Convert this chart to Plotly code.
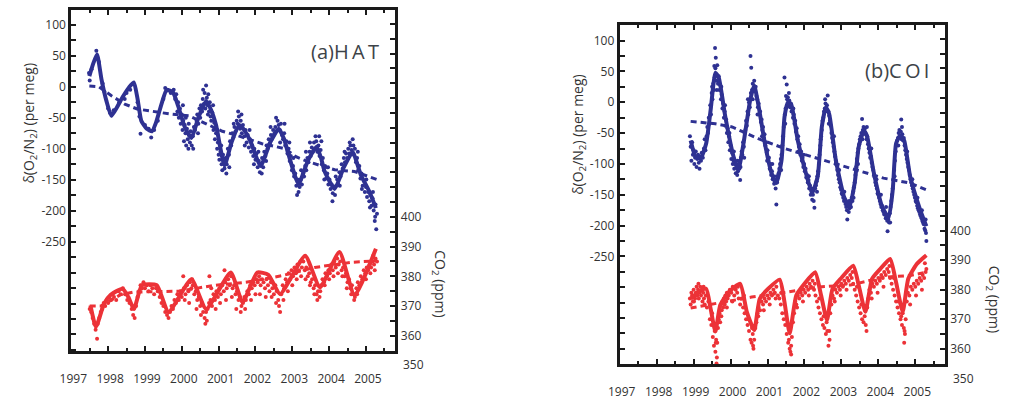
import plotly.graph_objects as go

# ---------------- axis ticks / labels ----------------
year_ticks = [1997, 1998, 1999, 2000, 2001, 2002, 2003, 2004, 2005]
year_labels = ["1997", "1998", "1999", "2000", "2001", "2002", "2003", "2004", "2005"]
half_year_ticks = [1997.5, 1998.5, 1999.5, 2000.5, 2001.5, 2002.5, 2003.5, 2004.5, 2005.5]

o2_tickvals = [-250, -200, -150, -100, -50, 0, 50, 100]
o2_ticktext = ["-250", "-200", "-150", "-100", "-50", "0", "50", "100"]
o2_minor_ticks = [-425, -400, -375, -350, -325, -300, -275, -225, -175, -125, -75, -25,
                  25, 75, 125]
co2_tickvals = [360, 370, 380, 390, 400]
co2_ticktext = ["360", "370", "380", "390", "400"]
co2_minor_ticks = [355, 365, 375, 385, 395, 405, 410, 415, 420, 425, 430, 435, 440, 445,
                   450, 455, 460, 465]

# ---------------- (a) HAT ----------------
hat_o2_fit = [(1997.49, 17), (1997.60, 38), (1997.70, 52), (1997.82, 12), (1997.95, -22),
              (1998.09, -47), (1998.39, -17), (1998.58, 0), (1998.70, 7), (1998.80, -20),
              (1998.90, -55), (1999.05, -68), (1999.19, -72), (1999.30, -58), (1999.41, -36),
              (1999.59, -5), (1999.76, -9), (1999.90, -31), (2000.08, -65), (2000.26, -83),
              (2000.45, -50), (2000.66, -23), (2000.80, -38), (2000.93, -62), (2001.16, -127),
              (2001.35, -90), (2001.56, -62), (2001.72, -72), (2001.87, -89), (2002.14, -128),
              (2002.40, -90), (2002.63, -68), (2002.78, -85), (2002.90, -110), (2003.17, -157),
              (2003.42, -120), (2003.66, -97), (2003.78, -115), (2003.88, -137), (2004.15, -165),
              (2004.40, -130), (2004.64, -105), (2004.75, -122), (2004.86, -142), (2005.09, -169),
              (2005.27, -196)]
hat_o2_trend = [(1997.49, 1), (1997.75, 0), (1998.10, -15), (1998.45, -28), (1998.79, -36),
                (1999.20, -40), (1999.68, -44), (2000.20, -47), (2000.75, -62), (2001.10, -72),
                (2001.47, -78), (2001.85, -86), (2002.18, -92), (2002.50, -96), (2002.80, -100),
                (2003.10, -113), (2003.43, -121), (2003.80, -128), (2004.15, -134), (2004.69, -137),
                (2005.00, -144), (2005.31, -150)]
hat_o2_obs = [
    (1997.48, 22), (1997.50, 10), (1997.55, 28), (1997.68, 58), (1997.75, 40), (1997.85, 5),
    (1997.90, -8), (1998.00, -35), (1998.05, -42), (1998.15, -38), (1998.30, -25), (1998.45, -20),
    (1998.50, -10), (1998.60, -5), (1998.80, -25), (1998.85, -48), (1998.88, -76), (1999.00, -62),
    (1999.10, -68), (1999.17, -82), (1999.25, -70), (1999.35, -55), (1999.50, -20), (1999.55, -2),
    (1999.62, -6), (1999.70, -10), (1999.78, -5), (1999.82, -20), (1999.85, -12), (1999.88, -40),
    (1999.90, -25), (1999.92, -50), (1999.95, -35), (1999.97, -60), (2000.00, -45), (2000.02, -70),
    (2000.04, -55), (2000.06, -88), (2000.08, -62), (2000.10, -75), (2000.12, -95), (2000.14, -68),
    (2000.16, -85), (2000.18, -100), (2000.20, -78), (2000.22, -90), (2000.24, -72), (2000.27, -95),
    (2000.30, -80), (2000.33, -65), (2000.36, -70), (2000.40, -55), (2000.42, -45), (2000.45, -60),
    (2000.48, -35), (2000.50, -50), (2000.52, -30), (2000.55, -40), (2000.57, -20), (2000.60, -28),
    (2000.62, -10), (2000.64, -35), (2000.66, 2), (2000.68, -18), (2000.70, -30), (2000.72, -12),
    (2000.74, -40), (2000.76, -25), (2000.78, -48), (2000.80, -55), (2000.83, -42), (2000.86, -70),
    (2000.88, -58), (2000.90, -85), (2000.93, -75), (2000.96, -100), (2000.98, -90), (2001.00, -110),
    (2001.02, -118), (2001.05, -105), (2001.08, -125), (2001.10, -135), (2001.13, -120), (2001.16, -132),
    (2001.19, -115), (2001.22, -125), (2001.25, -100), (2001.28, -110), (2001.31, -88), (2001.34, -95),
    (2001.37, -75), (2001.40, -82), (2001.43, -65), (2001.46, -72), (2001.49, -55), (2001.52, -60),
    (2001.55, -48), (2001.58, -68), (2001.60, -55), (2001.63, -75), (2001.66, -62), (2001.70, -80),
    (2001.73, -70), (2001.76, -90), (2001.79, -78), (2001.82, -98), (2001.85, -85), (2001.88, -105),
    (2001.91, -95), (2001.94, -112), (2001.97, -100), (2002.00, -118), (2002.03, -108), (2002.06, -130),
    (2002.09, -120), (2002.12, -138), (2002.15, -125), (2002.18, -115), (2002.21, -130), (2002.24, -105),
    (2002.27, -112), (2002.30, -95), (2002.33, -100), (2002.36, -85), (2002.39, -92), (2002.42, -78),
    (2002.45, -84), (2002.48, -70), (2002.51, -76), (2002.54, -65), (2002.57, -72), (2002.60, -55),
    (2002.63, -62), (2002.66, -70), (2002.69, -60), (2002.72, -78), (2002.75, -85), (2002.78, -75),
    (2002.81, -95), (2002.84, -88), (2002.87, -108), (2002.90, -100), (2002.93, -120), (2002.96, -112),
    (2002.99, -135), (2003.02, -128), (2003.05, -145), (2003.08, -140), (2003.11, -160), (2003.14, -150),
    (2003.17, -170), (2003.20, -162), (2003.23, -150), (2003.26, -158), (2003.29, -140), (2003.32, -145),
    (2003.35, -128), (2003.38, -135), (2003.41, -115), (2003.44, -122), (2003.47, -105), (2003.50, -112),
    (2003.53, -98), (2003.56, -105), (2003.59, -90), (2003.62, -100), (2003.65, -88), (2003.68, -105),
    (2003.71, -95), (2003.74, -112), (2003.77, -102), (2003.79, -88), (2003.80, -125), (2003.83, -115),
    (2003.86, -135), (2003.89, -128), (2003.92, -148), (2003.95, -140), (2003.98, -158), (2004.01, -150),
    (2004.04, -165), (2004.07, -158), (2004.10, -172), (2004.13, -162), (2004.16, -175), (2004.19, -160),
    (2004.22, -150), (2004.25, -158), (2004.28, -138), (2004.31, -145), (2004.34, -125), (2004.37, -132),
    (2004.40, -115), (2004.43, -122), (2004.46, -108), (2004.49, -115), (2004.52, -100), (2004.55, -108),
    (2004.58, -95), (2004.61, -102), (2004.64, -85), (2004.67, -110), (2004.70, -100), (2004.73, -122),
    (2004.76, -115), (2004.79, -135), (2004.82, -128), (2004.85, -148), (2004.88, -140), (2004.91, -160),
    (2004.94, -152), (2004.97, -170), (2005.00, -162), (2005.03, -178), (2005.06, -170), (2005.09, -185),
    (2005.12, -175), (2005.15, -192), (2005.18, -180), (2005.21, -200), (2005.24, -217), (2005.26, -190),
    (2005.28, -230), (2005.30, -205),
    (2000.03, -30), (2000.11, -50), (2000.19, -60), (2000.31, -100), (2000.44, -75), (2000.58, -5),
    (2000.71, -45), (2000.85, -30), (2000.97, -70), (2001.07, -95), (2001.12, -110), (2001.21, -140),
    (2001.29, -130), (2001.41, -60), (2001.53, -40), (2001.62, -45), (2001.71, -95), (2001.84, -70),
    (2001.96, -125), (2002.08, -105), (2002.17, -140), (2002.29, -120), (2002.41, -65), (2002.56, -50),
    (2002.67, -90), (2002.79, -60), (2002.92, -90), (2003.03, -115), (2003.13, -175), (2003.24, -135),
    (2003.37, -105), (2003.48, -90), (2003.63, -80), (2003.73, -80), (2003.87, -150), (2003.97, -130),
    (2004.09, -185), (2004.18, -145), (2004.29, -160), (2004.42, -105), (2004.56, -90), (2004.66, -95),
    (2004.78, -105), (2004.89, -165), (2005.01, -150), (2005.11, -195), (2005.19, -170), (2005.25, -210)]

hat_co2_fit = [(1997.52, 370.2), (1997.67, 363.0), (1997.89, 370.8), (1998.07, 373.8),
               (1998.39, 375.8), (1998.55, 373.0), (1998.70, 369.0), (1998.92, 377.0),
               (1999.32, 377.0), (1999.64, 368.0), (2000.26, 379.0), (2000.66, 369.0),
               (2001.33, 381.3), (2001.65, 371.3), (2002.05, 381.3), (2002.35, 380.5),
               (2002.67, 374.0), (2003.35, 386.9), (2003.75, 376.3), (2004.28, 388.2),
               (2004.69, 373.6), (2005.27, 389.3)]
hat_co2_trend = [(1997.50, 370.0), (1997.80, 370.0), (1998.34, 373.8), (1998.70, 374.7),
                 (1999.95, 375.0), (2000.84, 376.9), (2001.74, 378.0), (2002.72, 380.2),
                 (2003.61, 383.0), (2004.60, 384.7), (2005.27, 385.2)]
hat_co2_obs = [
    (1997.50, 369), (1997.54, 368), (1997.58, 366), (1997.62, 364), (1997.66, 362), (1997.70, 359),
    (1997.72, 364), (1997.76, 366), (1997.80, 368), (1997.84, 369), (1997.88, 371), (1997.92, 370),
    (1997.96, 372), (1998.00, 371), (1998.04, 373), (1998.08, 372), (1998.12, 374), (1998.16, 373),
    (1998.22, 372), (1998.28, 375), (1998.34, 374), (1998.40, 376), (1998.46, 374), (1998.52, 372),
    (1998.58, 371), (1998.64, 369), (1998.68, 367), (1998.72, 366), (1998.76, 370), (1998.80, 373),
    (1998.84, 375), (1998.88, 377), (1998.92, 376), (1998.96, 378), (1999.00, 376), (1999.05, 377),
    (1999.10, 375), (1999.15, 377), (1999.20, 376), (1999.25, 374), (1999.30, 376), (1999.35, 375),
    (1999.40, 373), (1999.45, 371), (1999.50, 370), (1999.55, 368), (1999.60, 367), (1999.64, 366),
    (1999.68, 368), (1999.72, 370), (1999.76, 369), (1999.80, 372), (1999.84, 371), (1999.88, 374),
    (1999.92, 372), (1999.96, 375), (2000.00, 373), (2000.04, 380), (2000.06, 376), (2000.10, 374),
    (2000.14, 377), (2000.18, 375), (2000.22, 378), (2000.26, 376), (2000.30, 377), (2000.34, 374),
    (2000.38, 375), (2000.42, 372), (2000.46, 373), (2000.50, 370), (2000.54, 371), (2000.58, 368),
    (2000.62, 366), (2000.66, 368), (2000.68, 365), (2000.70, 369), (2000.74, 371), (2000.75, 380),
    (2000.78, 372), (2000.82, 370), (2000.86, 374), (2000.90, 372), (2000.94, 375), (2000.98, 373),
    (2001.02, 376), (2001.06, 374), (2001.10, 377), (2001.14, 375), (2001.16, 382), (2001.18, 378),
    (2001.22, 376), (2001.26, 379), (2001.30, 377), (2001.34, 380), (2001.38, 376), (2001.42, 377),
    (2001.46, 374), (2001.50, 375), (2001.54, 372), (2001.58, 373), (2001.62, 370), (2001.66, 371),
    (2001.70, 373), (2001.74, 372), (2001.78, 375), (2001.82, 374), (2001.86, 377), (2001.90, 376),
    (2001.94, 378), (2001.98, 377), (2002.02, 379), (2002.06, 378), (2002.10, 380), (2002.14, 377),
    (2002.18, 379), (2002.22, 378), (2002.26, 376), (2002.30, 379), (2002.34, 377), (2002.38, 375),
    (2002.42, 378), (2002.46, 376), (2002.50, 374), (2002.54, 377), (2002.58, 375), (2002.62, 372),
    (2002.67, 368), (2002.70, 374), (2002.74, 377), (2002.78, 376), (2002.82, 379), (2002.86, 378),
    (2002.90, 381), (2002.94, 379), (2002.98, 382), (2003.02, 380), (2003.06, 383), (2003.10, 381),
    (2003.14, 384), (2003.18, 382), (2003.22, 385), (2003.26, 383), (2003.30, 385), (2003.34, 382),
    (2003.38, 383), (2003.42, 380), (2003.46, 381), (2003.50, 378), (2003.54, 379), (2003.58, 376),
    (2003.62, 377), (2003.66, 374), (2003.70, 375), (2003.74, 373), (2003.78, 377), (2003.82, 379),
    (2003.86, 378), (2003.90, 381), (2003.94, 380), (2003.98, 382), (2004.02, 381), (2004.06, 384),
    (2004.10, 382), (2004.14, 385), (2004.18, 383), (2004.22, 386), (2004.26, 384), (2004.30, 385),
    (2004.34, 382), (2004.38, 383), (2004.42, 380), (2004.46, 381), (2004.50, 378), (2004.54, 379),
    (2004.58, 376), (2004.62, 377), (2004.66, 374), (2004.70, 373), (2004.74, 376), (2004.78, 378),
    (2004.82, 377), (2004.86, 380), (2004.90, 379), (2004.94, 382), (2004.98, 381), (2005.02, 383),
    (2005.06, 382), (2005.10, 384), (2005.14, 383), (2005.18, 385), (2005.22, 384), (2005.26, 386),
    (2005.30, 385),
    (2000.08, 372), (2000.20, 371), (2000.28, 379), (2000.40, 369), (2000.52, 367), (2000.64, 364),
    (2000.80, 376), (2000.92, 369), (2001.04, 371), (2001.20, 372), (2001.36, 373), (2001.48, 369),
    (2001.60, 368), (2001.72, 369), (2001.88, 372), (2002.00, 374), (2002.12, 374), (2002.28, 373),
    (2002.44, 373), (2002.56, 371), (2002.64, 370), (2002.76, 372), (2002.88, 375), (2003.00, 377),
    (2003.12, 379), (2003.24, 380), (2003.36, 379), (2003.48, 377), (2003.60, 374), (2003.68, 372),
    (2003.76, 375), (2003.88, 377), (2004.00, 379), (2004.12, 380), (2004.24, 381), (2004.36, 380),
    (2004.48, 376), (2004.60, 374), (2004.68, 372), (2004.76, 374), (2004.88, 378), (2005.00, 379),
    (2005.12, 381), (2005.24, 382), (2005.20, 387)]

# ---------------- (b) COI ----------------
coi_o2_fit = [(1998.92, -62), (1999.05, -88), (1999.19, -91), (1999.34, -67), (1999.46, -13),
              (1999.59, 48), (1999.68, 40), (1999.86, -24), (2000.08, -88), (2000.21, -110),
              (2000.35, -67), (2000.53, 3), (2000.64, 27), (2000.75, -3), (2000.93, -67),
              (2001.11, -115), (2001.24, -131), (2001.38, -94), (2001.46, -24), (2001.55, 0),
              (2001.64, -3), (2001.82, -62), (2002.04, -115), (2002.21, -147), (2002.36, -120),
              (2002.47, -40), (2002.58, -8), (2002.67, -19), (2002.85, -94), (2003.07, -153),
              (2003.22, -169), (2003.36, -131), (2003.47, -72), (2003.61, -46), (2003.70, -56),
              (2003.88, -115), (2004.10, -169), (2004.28, -187), (2004.39, -142), (2004.48, -67),
              (2004.59, -54), (2004.70, -62), (2004.86, -120), (2005.13, -174), (2005.30, -201)]
coi_o2_trend = [(1998.92, -31), (1999.59, -35), (2000.04, -40), (2000.75, -59), (2001.46, -75),
                (2002.36, -91), (2003.25, -107), (2004.14, -123), (2004.86, -131), (2005.30, -142)]
coi_o2_obs = [
    (1998.90, -55), (1998.92, -72), (1998.94, -95), (1998.96, -65), (1998.98, -85), (1999.00, -78),
    (1999.02, -100), (1999.04, -90), (1999.06, -80), (1999.08, -105), (1999.10, -92), (1999.12, -85),
    (1999.14, -98), (1999.16, -108), (1999.18, -88), (1999.20, -95), (1999.22, -82), (1999.25, -90),
    (1999.28, -75), (1999.30, -60), (1999.32, -78), (1999.35, -55), (1999.37, -40), (1999.39, -50),
    (1999.41, -25), (1999.43, -35), (1999.45, -5), (1999.47, -20), (1999.49, 15), (1999.51, 5),
    (1999.53, 30), (1999.55, 20), (1999.56, 59), (1999.57, 40), (1999.58, 88), (1999.59, 55),
    (1999.60, 72), (1999.61, 45), (1999.62, 35), (1999.64, 60), (1999.66, 30), (1999.68, 42),
    (1999.70, 20), (1999.72, 28), (1999.74, 5), (1999.76, 12), (1999.78, -10), (1999.80, -2),
    (1999.82, -25), (1999.84, -15), (1999.86, -38), (1999.88, -28), (1999.90, -50), (1999.92, -42),
    (1999.94, -65), (1999.96, -55), (1999.98, -78), (2000.00, -70), (2000.02, -92), (2000.04, -82),
    (2000.06, -100), (2000.08, -95), (2000.10, -108), (2000.12, -100), (2000.14, -115), (2000.16, -105),
    (2000.18, -118), (2000.20, -112), (2000.22, -100), (2000.24, -108), (2000.26, -126), (2000.28, -90),
    (2000.30, -80), (2000.32, -85), (2000.34, -65), (2000.36, -72), (2000.38, -50), (2000.40, -45),
    (2000.42, -30), (2000.44, -38), (2000.46, -15), (2000.48, -20), (2000.50, 0), (2000.52, -8),
    (2000.54, 75), (2000.55, 15), (2000.56, 56), (2000.58, 20), (2000.60, 30), (2000.62, 22),
    (2000.64, 35), (2000.66, 18), (2000.68, 25), (2000.70, 10), (2000.72, 5), (2000.74, -8),
    (2000.76, -2), (2000.78, -20), (2000.80, -15), (2000.82, -32), (2000.84, -28), (2000.86, -45),
    (2000.88, -40), (2000.90, -58), (2000.92, -52), (2000.94, -70), (2000.96, -65), (2000.98, -82),
    (2001.00, -78), (2001.02, -95), (2001.04, -90), (2001.06, -108), (2001.08, -100), (2001.10, -118),
    (2001.12, -112), (2001.14, -125), (2001.16, -120), (2001.18, -132), (2001.20, -128), (2001.22, -140),
    (2001.24, -166), (2001.26, -130), (2001.28, -122), (2001.30, -115), (2001.32, -108), (2001.34, -100),
    (2001.36, -92), (2001.38, -85), (2001.40, -70), (2001.42, -55), (2001.44, -40), (2001.46, 40),
    (2001.47, -20), (2001.49, -10), (2001.50, 10), (2001.52, 29), (2001.53, 5), (2001.55, 8),
    (2001.57, -5), (2001.59, 3), (2001.61, -8), (2001.63, -2), (2001.65, -15), (2001.67, -10),
    (2001.69, -25), (2001.71, -20), (2001.73, -35), (2001.75, -30), (2001.77, -48), (2001.79, -42),
    (2001.81, -60), (2001.83, -55), (2001.85, -72), (2001.87, -68), (2001.89, -85), (2001.91, -80),
    (2001.93, -95), (2001.95, -90), (2001.97, -105), (2001.99, -100), (2002.01, -112), (2002.03, -108),
    (2002.05, -122), (2002.07, -118), (2002.09, -130), (2002.11, -126), (2002.13, -140), (2002.15, -135),
    (2002.17, -150), (2002.19, -145), (2002.21, -158), (2002.23, -150), (2002.25, -160), (2002.27, -171),
    (2002.29, -140), (2002.31, -135), (2002.33, -128), (2002.35, -120), (2002.37, -112), (2002.39, -100),
    (2002.41, -85), (2002.43, -70), (2002.45, -55), (2002.47, -45), (2002.49, -30), (2002.51, -25),
    (2002.53, -15), (2002.55, -10), (2002.57, -2), (2002.59, -12), (2002.61, -5), (2002.63, 11),
    (2002.65, -15), (2002.67, -22), (2002.69, -30), (2002.71, -38), (2002.73, -50), (2002.75, -58),
    (2002.77, -65), (2002.79, -72), (2002.81, -80), (2002.83, -88), (2002.85, -95), (2002.87, -102),
    (2002.89, -110), (2002.91, -118), (2002.93, -125), (2002.95, -130), (2002.97, -138), (2002.99, -142),
    (2003.01, -148), (2003.03, -150), (2003.05, -155), (2003.07, -160), (2003.09, -158), (2003.11, -165),
    (2003.13, -170), (2003.15, -175), (2003.16, -190), (2003.18, -168), (2003.20, -178), (2003.22, -172),
    (2003.24, -165), (2003.26, -170), (2003.28, -155), (2003.30, -160), (2003.32, -145), (2003.34, -138),
    (2003.36, -130), (2003.38, -118), (2003.40, -105), (2003.42, -92), (2003.44, -82), (2003.46, -75),
    (2003.48, -68), (2003.50, -60), (2003.52, -55), (2003.54, -50), (2003.56, -27), (2003.58, -45),
    (2003.60, -40), (2003.62, -48), (2003.64, -42), (2003.66, -52), (2003.68, -60), (2003.70, -55),
    (2003.72, -68), (2003.74, -75), (2003.76, -82), (2003.78, -90), (2003.80, -88), (2003.82, -98),
    (2003.84, -105), (2003.86, -110), (2003.88, -118), (2003.90, -122), (2003.92, -130), (2003.94, -135),
    (2003.96, -140), (2003.98, -148), (2004.00, -150), (2004.02, -155), (2004.04, -160), (2004.06, -165),
    (2004.08, -170), (2004.10, -168), (2004.12, -175), (2004.14, -178), (2004.16, -182), (2004.18, -180),
    (2004.20, -188), (2004.22, -185), (2004.24, -192), (2004.25, -209), (2004.27, -190), (2004.29, -195),
    (2004.31, -180), (2004.33, -170), (2004.35, -160), (2004.37, -150), (2004.39, -140), (2004.41, -125),
    (2004.43, -110), (2004.45, -95), (2004.47, -80), (2004.49, -70), (2004.51, -62), (2004.53, -58),
    (2004.55, -50), (2004.57, -45), (2004.59, -55), (2004.61, -48), (2004.62, -28), (2004.63, -60),
    (2004.65, -52), (2004.67, -62), (2004.69, -58), (2004.71, -70), (2004.73, -78), (2004.75, -85),
    (2004.77, -92), (2004.79, -98), (2004.81, -105), (2004.83, -110), (2004.85, -118), (2004.87, -125),
    (2004.89, -130), (2004.91, -135), (2004.93, -140), (2004.95, -145), (2004.97, -150), (2004.99, -155),
    (2005.01, -160), (2005.03, -162), (2005.05, -168), (2005.07, -172), (2005.09, -175), (2005.11, -178),
    (2005.13, -182), (2005.15, -185), (2005.17, -188), (2005.19, -192), (2005.21, -195), (2005.23, -198),
    (2005.25, -205), (2005.27, -208), (2005.29, -212), (2005.30, -225),
    (1999.50, 25), (1999.63, 20), (1999.75, 25), (1999.85, -5), (1999.97, -50), (2000.09, -80),
    (2000.19, -95), (2000.27, -105), (2000.37, -90), (2000.47, 5), (2000.60, 5), (2000.73, -20),
    (2000.85, -55), (2000.99, -95), (2001.13, -100), (2001.25, -120), (2001.37, -110), (2001.48, -35),
    (2001.58, 15), (2001.70, -10), (2001.84, -80), (2001.98, -85), (2002.12, -120), (2002.24, -140),
    (2002.34, -145), (2002.44, -60), (2002.56, 5), (2002.66, -35), (2002.80, -55), (2002.94, -110),
    (2003.08, -145), (2003.21, -160), (2003.33, -155), (2003.45, -100), (2003.57, -60), (2003.69, -40),
    (2003.81, -75), (2003.95, -125), (2004.07, -150), (2004.21, -170), (2004.32, -195), (2004.44, -120),
    (2004.54, -70), (2004.64, -40), (2004.78, -80), (2004.92, -125), (2005.06, -155), (2005.18, -175),
    (2005.28, -190)]

coi_co2_fit = [(1998.92, 376.9), (1999.14, 379.2), (1999.34, 380.3), (1999.46, 373.6),
               (1999.59, 365.8), (1999.72, 374.7), (1999.95, 379.2), (2000.26, 382.0),
               (2000.44, 372.5), (2000.64, 366.3), (2000.79, 376.9), (2001.02, 380.3),
               (2001.33, 383.4), (2001.46, 375.8), (2001.60, 365.2), (2001.78, 378.1),
               (2002.00, 382.0), (2002.29, 385.9), (2002.45, 378.1), (2002.61, 369.7),
               (2002.76, 380.3), (2002.98, 383.7), (2003.32, 388.1), (2003.47, 381.4),
               (2003.65, 372.5), (2003.83, 383.7), (2004.05, 387.0), (2004.32, 390.4),
               (2004.48, 382.5), (2004.66, 372.5), (2004.81, 383.7), (2005.04, 388.7),
               (2005.30, 391.7)]
coi_co2_trend = [(1998.92, 373.8), (1999.59, 375.3), (2000.57, 377.5), (2001.55, 379.2),
                 (2002.36, 380.9), (2003.25, 381.6), (2004.14, 384.2), (2004.86, 384.8),
                 (2005.30, 385.9)]
coi_co2_obs = [
    (1998.90, 377), (1998.92, 375), (1998.94, 379), (1998.96, 378), (1998.98, 376), (1999.00, 380),
    (1999.02, 378), (1999.04, 377), (1999.06, 379), (1999.08, 381), (1999.10, 378), (1999.12, 380),
    (1999.14, 377), (1999.16, 379), (1999.18, 381), (1999.20, 378), (1999.22, 380), (1999.24, 376),
    (1999.26, 379), (1999.28, 377), (1999.30, 375), (1999.33, 378), (1999.36, 374), (1999.40, 376),
    (1999.44, 370), (1999.48, 368), (1999.52, 364), (1999.55, 361), (1999.57, 366), (1999.59, 359),
    (1999.61, 363), (1999.62, 355), (1999.64, 362), (1999.66, 367), (1999.68, 370), (1999.70, 372),
    (1999.72, 369), (1999.74, 375), (1999.76, 373), (1999.78, 376), (1999.80, 374), (1999.82, 377),
    (1999.84, 375), (1999.86, 378), (1999.88, 376), (1999.90, 379), (1999.92, 377), (1999.95, 378),
    (1999.98, 380), (2000.02, 379), (2000.06, 381), (2000.10, 378), (2000.14, 380), (2000.18, 379),
    (2000.22, 377), (2000.26, 375), (2000.30, 377), (2000.34, 374), (2000.38, 372), (2000.42, 370),
    (2000.46, 368), (2000.50, 366), (2000.54, 363), (2000.57, 362), (2000.60, 365), (2000.62, 360),
    (2000.64, 363), (2000.67, 367), (2000.70, 369), (2000.73, 372), (2000.76, 374), (2000.80, 373),
    (2000.84, 376), (2000.88, 375), (2000.92, 377), (2000.96, 376), (2001.00, 378), (2001.04, 377),
    (2001.08, 379), (2001.12, 378), (2001.16, 380), (2001.20, 379), (2001.24, 381), (2001.28, 378),
    (2001.32, 377), (2001.36, 375), (2001.40, 372), (2001.44, 370), (2001.48, 368), (2001.52, 365),
    (2001.56, 362), (2001.60, 360), (2001.62, 359), (2001.64, 361), (2001.66, 364), (2001.69, 369),
    (2001.72, 372), (2001.75, 376), (2001.78, 375), (2001.82, 378), (2001.86, 377), (2001.90, 379),
    (2001.94, 378), (2001.98, 380), (2002.02, 379), (2002.06, 381), (2002.10, 380), (2002.14, 382),
    (2002.18, 381), (2002.22, 383), (2002.26, 380), (2002.30, 378), (2002.34, 376), (2002.38, 374),
    (2002.42, 372), (2002.46, 370), (2002.50, 368), (2002.54, 367), (2002.58, 365), (2002.62, 366),
    (2002.65, 361), (2002.67, 366), (2002.70, 372), (2002.73, 375), (2002.76, 378), (2002.80, 377),
    (2002.84, 380), (2002.88, 379), (2002.92, 381), (2002.96, 380), (2003.00, 382), (2003.04, 381),
    (2003.08, 383), (2003.12, 382), (2003.16, 384), (2003.20, 383), (2003.24, 385), (2003.28, 384),
    (2003.32, 382), (2003.36, 380), (2003.40, 378), (2003.44, 376), (2003.48, 374), (2003.52, 372),
    (2003.56, 370), (2003.60, 369), (2003.63, 371), (2003.66, 368), (2003.70, 374), (2003.73, 377),
    (2003.76, 380), (2003.80, 379), (2003.84, 382), (2003.88, 381), (2003.92, 383), (2003.96, 382),
    (2004.00, 384), (2004.04, 383), (2004.08, 385), (2004.12, 384), (2004.16, 386), (2004.20, 385),
    (2004.24, 387), (2004.28, 386), (2004.32, 384), (2004.36, 382), (2004.40, 380), (2004.44, 378),
    (2004.48, 376), (2004.52, 374), (2004.56, 372), (2004.60, 370), (2004.64, 368), (2004.66, 372),
    (2004.69, 367), (2004.72, 365), (2004.74, 370), (2004.77, 376), (2004.80, 379), (2004.84, 378),
    (2004.88, 381), (2004.92, 380), (2004.96, 382), (2005.00, 381), (2005.04, 383), (2005.08, 382),
    (2005.12, 384), (2005.16, 383), (2005.20, 385), (2005.24, 384), (2005.28, 386), (2005.30, 387),
    (1999.01, 376), (1999.13, 382), (1999.27, 381), (1999.50, 372), (1999.60, 362), (1999.63, 357),
    (1999.75, 371), (1999.90, 374), (2000.05, 376), (2000.20, 381), (2000.36, 378), (2000.48, 370),
    (2000.58, 367), (2000.61, 361), (2000.75, 371), (2000.90, 373), (2001.06, 375), (2001.22, 377),
    (2001.38, 379), (2001.50, 372), (2001.58, 363), (2001.64, 358), (2001.80, 374), (2001.96, 376),
    (2002.12, 378), (2002.28, 382), (2002.40, 377), (2002.52, 371), (2002.60, 369), (2002.68, 363),
    (2002.82, 376), (2002.98, 378), (2003.14, 380), (2003.30, 386), (2003.42, 381), (2003.54, 375),
    (2003.64, 373), (2003.68, 366), (2003.82, 377), (2003.98, 379), (2004.14, 381), (2004.30, 388),
    (2004.42, 384), (2004.54, 376), (2004.62, 371), (2004.70, 362), (2004.71, 366), (2004.86, 375),
    (2005.02, 378), (2005.18, 380), (2005.26, 389)]

# ---------------- styling ----------------
BLUE = "#2e3192"
RED = "#ec3237"
AXIS = "#1a1a1a"
TEXT = "#333333"
FONT = "Open Sans"
W, H = 1014, 400


def unpack(pairs):
    return [p[0] for p in pairs], [p[1] for p in pairs]


fig = go.Figure()


def add_panel(xa, ya, ya2, o2_obs, o2_fit, o2_trend, co2_obs, co2_fit, co2_trend):
    x, y = unpack(o2_obs)
    fig.add_trace(go.Scatter(x=x, y=y, mode="markers", xaxis=xa, yaxis=ya,
                             marker=dict(size=4, color=BLUE, line=dict(width=0)),
                             showlegend=False, hoverinfo="skip"))
    x, y = unpack(o2_trend)
    fig.add_trace(go.Scatter(x=x, y=y, mode="lines", xaxis=xa, yaxis=ya,
                             line=dict(color=BLUE, width=3, dash="6px,4px"),
                             showlegend=False, hoverinfo="skip"))
    x, y = unpack(o2_fit)
    fig.add_trace(go.Scatter(x=x, y=y, mode="lines", xaxis=xa, yaxis=ya,
                             line=dict(color=BLUE, width=4, shape="spline", smoothing=0.5),
                             showlegend=False, hoverinfo="skip"))
    x, y = unpack(co2_obs)
    fig.add_trace(go.Scatter(x=x, y=y, mode="markers", xaxis=xa, yaxis=ya2,
                             marker=dict(size=4, color=RED, line=dict(width=0)),
                             showlegend=False, hoverinfo="skip"))
    x, y = unpack(co2_trend)
    fig.add_trace(go.Scatter(x=x, y=y, mode="lines", xaxis=xa, yaxis=ya2,
                             line=dict(color=RED, width=3, dash="6px,4px"),
                             showlegend=False, hoverinfo="skip"))
    x, y = unpack(co2_fit)
    fig.add_trace(go.Scatter(x=x, y=y, mode="lines", xaxis=xa, yaxis=ya2,
                             line=dict(color=RED, width=4, shape="spline", smoothing=0.5),
                             showlegend=False, hoverinfo="skip"))


add_panel("x", "y", "y2", hat_o2_obs, hat_o2_fit, hat_o2_trend,
          hat_co2_obs, hat_co2_fit, hat_co2_trend)
add_panel("x2", "y3", "y4", coi_o2_obs, coi_o2_fit, coi_o2_trend,
          coi_co2_obs, coi_co2_fit, coi_co2_trend)

tickfont = dict(family=FONT, size=12, color=TEXT)


def xaxis_cfg(domain, anchor):
    return dict(domain=domain, anchor=anchor, range=[1997, 2005.8],
                tickvals=year_ticks, ticktext=year_labels, ticks="inside",
                ticklen=5, tickwidth=2, tickcolor=AXIS,
                minor=dict(tickvals=half_year_ticks, ticks="inside", ticklen=3,
                           tickwidth=2, tickcolor=AXIS),
                showline=True, linewidth=3, linecolor=AXIS, mirror="ticks",
                showgrid=False, zeroline=False, tickfont=tickfont,
                ticklabelstandoff=14, ticklabelshift=2)


def yleft_cfg(domain, anchor, rng):
    return dict(domain=domain, anchor=anchor, range=rng,
                tickvals=o2_tickvals, ticktext=o2_ticktext, ticks="inside",
                ticklen=5, tickwidth=2, tickcolor=AXIS,
                minor=dict(tickvals=o2_minor_ticks, ticks="inside", ticklen=5,
                           tickwidth=2, tickcolor=AXIS),
                showline=True, linewidth=3, linecolor=AXIS,
                showgrid=False, zeroline=False, tickfont=tickfont)


def yright_cfg(over, anchor, rng):
    return dict(overlaying=over, anchor=anchor, side="right", range=rng,
                tickvals=co2_tickvals, ticktext=co2_ticktext, ticks="inside",
                ticklen=5, tickwidth=2, tickcolor=AXIS,
                minor=dict(tickvals=co2_minor_ticks, ticks="inside", ticklen=5,
                           tickwidth=2, tickcolor=AXIS),
                showline=True, linewidth=3, linecolor=AXIS,
                showgrid=False, zeroline=False, tickfont=tickfont)


fig.update_layout(
    width=W, height=H, margin=dict(l=0, r=0, t=0, b=0),
    paper_bgcolor="white", plot_bgcolor="white",
    font=dict(family=FONT, color=TEXT),
    xaxis=xaxis_cfg([60 / W, 388 / W], "y"),
    yaxis=yleft_cfg([1 - 355 / H, 1 - 10 / H], "x", [-427.4, 124]),
    yaxis2=yright_cfg("y", "x", [354.7, 469.7]),
    xaxis2=xaxis_cfg([615 / W, 944 / W], "y3"),
    yaxis3=yleft_cfg([1 - 368 / H, 1 - 25 / H], "x2", [-425, 125.7]),
    yaxis4=yright_cfg("y3", "x2", [354.7, 469.8]),
)


def ann(text, x, y, size, angle=0, color=TEXT):
    fig.add_annotation(text=text, x=x / W, y=1 - y / H, xref="paper", yref="paper",
                       showarrow=False, textangle=angle, xanchor="center", yanchor="middle",
                       font=dict(family=FONT, size=size, color=color))


o2_title = "\u03b4(O<sub>2</sub>/N<sub>2</sub>) (per meg)"
co2_title = "CO<sub>2</sub> (ppm)"
ann(o2_title, 18, 124, 14, -90)
ann(o2_title, 573, 136, 14, -90)
ann(co2_title, 433, 287, 14, 90)
ann(co2_title, 993, 302, 14, 90)
ann("(a)H\u2009A\u2009T", 337, 52, 20, 0, "#3d4348")
ann("(b)C\u2009O\u2009I", 896, 71, 20, 0, "#3d4348")
ann("350", 406, 368, 12)
ann("350", 963, 382, 12)

fig.write_html("out.html")
